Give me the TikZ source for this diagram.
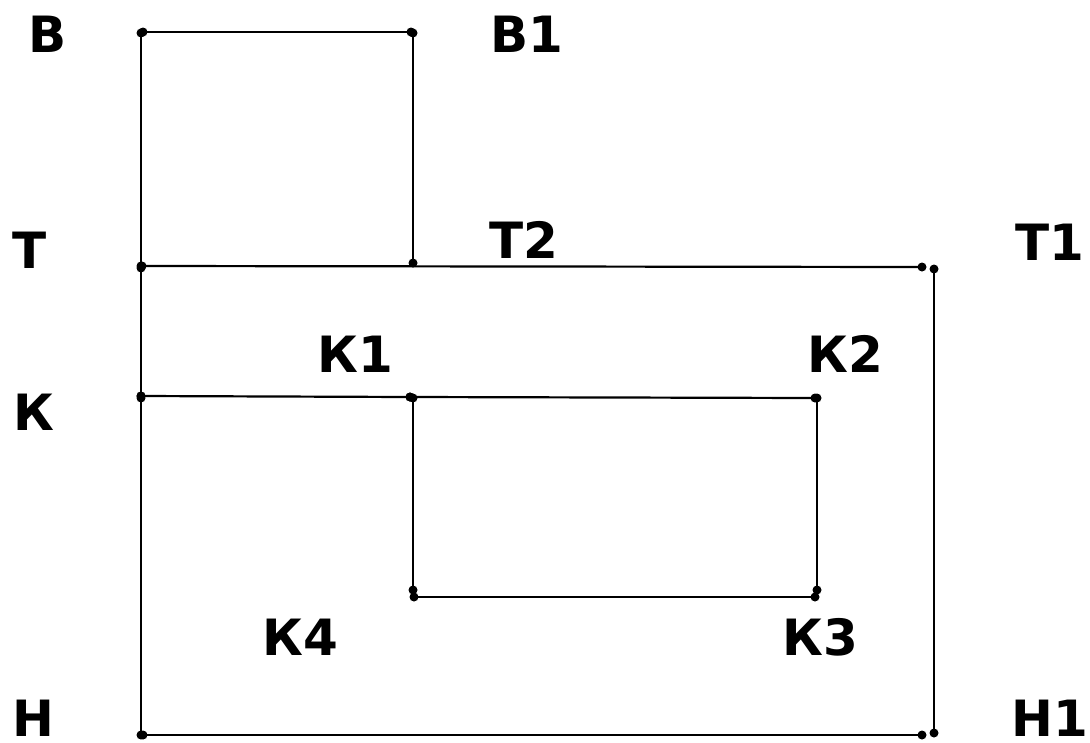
\documentclass[tikz,border=0pt]{standalone}
\usepackage{fontspec}
\setmainfont{DejaVu Sans}
\begin{document}
\begin{tikzpicture}[x=1pt,y=-1pt,
  seg/.style={line width=2.2pt},
  pt/.style={fill=black},
  lbl/.style={anchor=base,font=\fontsize{50}{52}\selectfont\bfseries,inner sep=0pt}]
\useasboundingbox (0,0) rectangle (1090,742);
\fill[white] (0,0) rectangle (1090,742);
\newcommand{\segm}[2]{\draw[seg] (#1) -- (#2); \fill[pt] (#1) circle (4.5pt); \fill[pt] (#2) circle (4.5pt);}
% coordinates
\coordinate (a1) at (143,32);  \coordinate (a2) at (411,32);
\coordinate (b1) at (141,33);  \coordinate (b2) at (141,266);
\coordinate (c1) at (413,33);  \coordinate (c2) at (413,263);
\coordinate (d1) at (142,266); \coordinate (d2) at (922,267);
\coordinate (e1) at (934,269); \coordinate (e2) at (934,733);
\coordinate (f1) at (141,268); \coordinate (f2) at (141,396);
\coordinate (g1) at (141,396); \coordinate (g2) at (410,397);
\coordinate (h1) at (410,397); \coordinate (h2) at (815,398);
\coordinate (i1) at (817,398); \coordinate (i2) at (817,590);
\coordinate (j1) at (413,398); \coordinate (j2) at (413,590);
\coordinate (k1) at (414,597); \coordinate (k2) at (815,597);
\coordinate (l1) at (141,398); \coordinate (l2) at (141,735);
\coordinate (m1) at (143,735); \coordinate (m2) at (922,735);
\segm{a1}{a2}
\segm{b1}{b2}
\segm{c1}{c2}
\segm{d1}{d2}
\segm{e1}{e2}
\segm{f1}{f2}
\segm{g1}{g2}
\segm{h1}{h2}
\segm{i1}{i2}
\segm{j1}{j2}
\segm{k1}{k2}
\segm{l1}{l2}
\segm{m1}{m2}
% labels
\node[lbl] (V)  at (48,52)   {В};
\node[lbl] (V1) at (527,52)  {В1};
\node[lbl] (T)  at (30,268)  {Т};
\node[lbl] (T2) at (524,258) {Т2};
\node[lbl] (T1) at (1050,260) {Т1};
\node[lbl] (K)  at (34,430)  {К};
\node[lbl] (K1) at (355,372) {К1};
\node[lbl] (K2) at (845,372) {К2};
\node[lbl] (K4) at (300,655) {К4};
\node[lbl] (K3) at (820,655) {К3};
\node[lbl] (N)  at (33,736)  {Н};
\node[lbl] (N1) at (1050,736) {Н1};
\end{tikzpicture}
\end{document}
